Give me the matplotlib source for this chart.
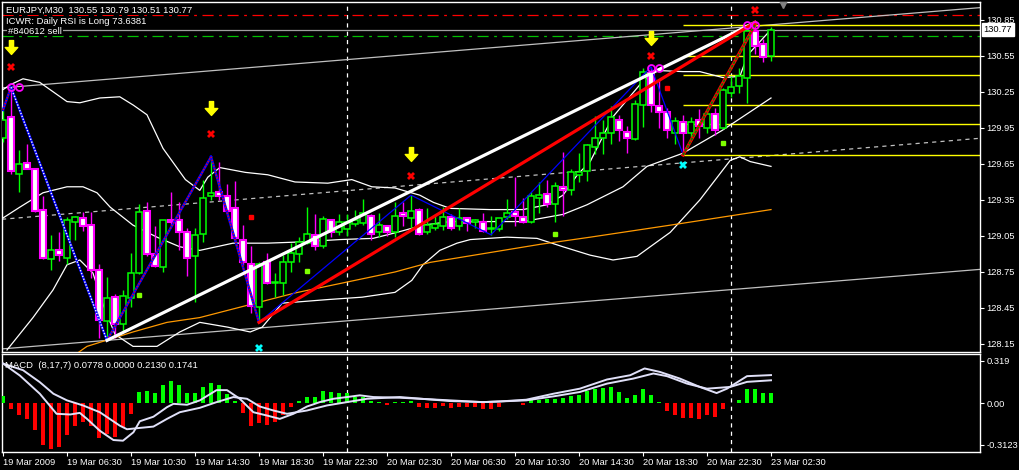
import numpy as np
import matplotlib
matplotlib.use("Agg")
import matplotlib.pyplot as plt
from matplotlib.path import Path
import matplotlib.transforms as mtransforms

plt.rcParams['font.family'] = ['Liberation Sans', 'DejaVu Sans']
plt.rcParams['lines.scale_dashes'] = False

# ===== EURJPY M30 candles, bar 0 = 19 Mar 2009 02:30 =====
opens = [129.87, 130.04, 129.57, 129.66, 129.61, 129.27, 128.86, 128.93, 128.87, 129.17,
         129.20, 129.14, 128.77, 128.34, 128.54, 128.32, 128.53, 128.74, 129.26, 128.90,
         128.79, 129.18, 129.18, 129.08, 128.88, 129.07, 129.38, 129.42, 129.38, 129.28,
         129.02, 128.82, 128.46, 128.83, 128.66, 128.66, 128.83, 128.90, 128.99, 129.06,
         128.97, 129.18, 129.08, 129.11, 129.15, 129.16, 129.22, 129.08, 129.13, 129.08,
         129.24, 129.20, 129.27, 129.08, 129.12, 129.13, 129.21, 129.13, 129.20, 129.17,
         129.17, 129.11, 129.11, 129.21, 129.25, 129.21, 129.17, 129.37, 129.40, 129.32,
         129.46, 129.43, 129.56, 129.59, 129.79, 129.87, 129.91, 130.02, 129.92, 129.86,
         130.14, 130.41, 130.13, 130.08, 129.91, 130.00, 129.91, 130.02, 129.95, 130.07,
         129.95, 130.24, 130.30, 130.37, 130.76, 130.65, 130.55]
highs = [130.10, 130.29, 129.77, 129.82, 129.62, 129.38, 129.06, 129.08, 129.21, 129.22,
         129.25, 129.25, 128.82, 128.71, 128.57, 128.60, 128.91, 129.32, 129.33, 129.13,
         129.18, 129.42, 129.33, 129.12, 129.12, 129.52, 129.71, 129.67, 129.48, 129.51,
         129.14, 128.97, 128.83, 128.91, 128.74, 128.89, 128.99, 129.04, 129.29, 129.23,
         129.22, 129.18, 129.23, 129.23, 129.27, 129.36, 129.23, 129.24, 129.14, 129.33,
         129.33, 129.39, 129.28, 129.28, 129.22, 129.29, 129.23, 129.28, 129.21, 129.19,
         129.24, 129.22, 129.20, 129.36, 129.54, 129.37, 129.42, 129.50, 129.52, 129.50,
         129.75, 129.61, 129.74, 129.82, 130.05, 130.02, 130.13, 130.06, 129.97, 130.18,
         130.45, 130.46, 130.35, 130.12, 130.04, 130.06, 130.04, 130.11, 130.10, 130.12,
         130.28, 130.38, 130.45, 130.78, 130.83, 130.69, 130.79]
lows = [129.83, 129.57, 129.42, 129.61, 129.25, 128.86, 128.77, 128.84, 128.82, 129.02,
        129.09, 128.70, 128.20, 128.18, 128.20, 128.25, 128.46, 128.73, 128.88, 128.79,
        128.75, 129.14, 128.93, 128.72, 128.50, 129.00, 129.35, 129.35, 129.24, 129.02,
        128.81, 128.41, 128.33, 128.65, 128.54, 128.56, 128.75, 128.83, 128.98, 128.93,
        128.95, 129.04, 129.06, 129.05, 129.13, 129.14, 129.02, 129.04, 129.05, 129.04,
        129.13, 129.12, 129.06, 129.07, 129.10, 129.10, 129.10, 129.10, 129.09, 129.12,
        129.08, 129.06, 129.09, 129.19, 129.13, 129.16, 129.16, 129.24, 129.29, 129.17,
        129.22, 129.39, 129.50, 129.51, 129.73, 129.73, 129.82, 129.84, 129.74, 129.85,
        129.96, 130.08, 129.95, 129.87, 129.82, 129.73, 129.87, 129.87, 129.91, 129.89,
        129.94, 130.21, 130.24, 130.16, 130.57, 130.50, 130.51]
closes = [130.02, 129.59, 129.65, 129.61, 129.26, 128.87, 128.93, 128.89, 129.18, 129.21,
          129.13, 128.77, 128.35, 128.53, 128.32, 128.55, 128.74, 129.25, 128.90, 128.80,
          129.18, 129.17, 129.08, 128.87, 129.06, 129.37, 129.41, 129.38, 129.26, 129.03,
          128.83, 128.47, 128.82, 128.66, 128.67, 128.83, 128.91, 129.00, 129.07, 128.97,
          129.19, 129.08, 129.17, 129.17, 129.18, 129.24, 129.07, 129.14, 129.08, 129.22,
          129.22, 129.26, 129.07, 129.14, 129.15, 129.21, 129.12, 129.20, 129.16, 129.18,
          129.09, 129.12, 129.20, 129.24, 129.22, 129.17, 129.38, 129.39, 129.32, 129.47,
          129.43, 129.58, 129.58, 129.81, 129.87, 129.91, 130.04, 129.93, 129.87, 130.15,
          130.42, 130.14, 130.08, 129.93, 130.01, 129.91, 130.00, 129.97, 130.07, 129.93,
          130.27, 130.29, 130.38, 130.76, 130.63, 130.54, 130.77]

# ===== bollinger bands + slow MA, read as (bar, price) points =====
bb_up_x = [0, 0.9, 2.5, 4.6, 8, 9.6, 12.1, 14.6, 16.3, 18, 20, 22.8, 24.6, 25.6, 27.1, 30.3,
           33.1, 36.5, 40.6, 43.6, 46.1, 49, 50, 52.1, 53.8, 55.9, 60.9, 65, 68, 70, 71.8,
           73.4, 76.2, 79.6, 81.5, 85, 87.1, 90, 92.1, 93.1, 96]
bb_up_y = [130.27, 130.31, 130.36, 130.33, 130.17, 130.16, 130.20, 130.21, 130.14, 130.06,
           129.78, 129.52, 129.43, 129.54, 129.62, 129.58, 129.56, 129.50, 129.49, 129.52,
           129.46, 129.45, 129.43, 129.39, 129.33, 129.28, 129.27, 129.27, 129.31, 129.39,
           129.56, 129.67, 130.04, 130.31, 130.43, 130.42, 130.42, 130.37, 130.38, 130.56, 130.77]
bb_mid_x = [0, 2.1, 5, 8, 10, 11.75, 13.4, 16.25, 19.25, 22.1, 24.6, 28.75, 33, 37.1, 42.1,
            46.25, 49.25, 52.5, 55.9, 65, 70, 73, 77.5, 80.5, 85, 89.9, 96]
bb_mid_y = [129.20, 129.29, 129.41, 129.46, 129.46, 129.41, 129.29, 129.14, 129.04, 128.96,
            128.93, 128.99, 128.99, 129.00, 129.02, 129.03, 129.08, 129.14, 129.17, 129.17,
            129.23, 129.31, 129.46, 129.63, 129.74, 129.93, 130.20]
bb_lo_x = [0.5, 3.75, 6.25, 8, 9.6, 11.25, 12.5, 14, 16.25, 19.25, 22.1, 24.6, 28.1, 30.9,
           32.4, 34.9, 40.6, 44.9, 49, 51.1, 52.5, 54.6, 56.75, 58.4, 63, 66.75, 70, 73.4,
           76.25, 79.25, 80.9, 83.4, 87.1, 90.9, 92.1, 93.4, 96]
bb_lo_y = [128.10, 128.37, 128.60, 128.81, 128.85, 128.74, 128.48, 128.23, 128.13, 128.13,
           128.25, 128.33, 128.29, 128.25, 128.29, 128.49, 128.52, 128.54, 128.58, 128.68,
           128.81, 128.93, 128.99, 129.02, 129.04, 129.03, 128.96, 128.89, 128.85, 128.88,
           128.96, 129.08, 129.35, 129.68, 129.71, 129.67, 129.63]
ma_x = [9, 10.5, 16.25, 20.5, 24.6, 36.5, 49, 53.4, 67.1, 73.4, 83.4, 96]
ma_y = [128.06, 128.13, 128.25, 128.33, 128.37, 128.575, 128.75, 128.83, 128.98, 129.04,
        129.14, 129.27]

# ===== zigzag / trendlines / fibo =====
zz_x = [0, 1, 13, 26, 32]
zz_y = [130.10, 130.29, 128.18, 129.71, 128.33]
zz2_x = [32, 51, 61, 81, 85]
zz2_y = [128.33, 129.39, 129.06, 130.46, 129.73]
white_tl = [(13, 128.18), (94, 130.83)]
red_tl = [(32, 128.33), (94, 130.83)]
chan_top = [(1, 130.29), (96, 130.81)]
chan_bot = [(13, 128.18), (96, 128.63)]
chan_mid = [(0, 129.19), (96, 129.72)]
fib_start, fib_low, fib_high = 85, 129.725, 130.81
fib_levels = [0.0, 0.236, 0.382, 0.618, 0.764, 1.0]
sl_price, tp_price, bid_price = 130.89, 130.72, 130.77

# ===== signal markers =====
arrow_x = [1, 26, 51, 81]
arrow_y = [130.625, 130.117, 129.733, 130.70]
redx_x = [1, 26, 51, 81, 94]
redx_y = [130.458, 129.90, 129.55, 130.55, 130.933]
cyan_x = [32, 85]
cyan_y = [128.117, 129.642]
ring_x = [1, 2, 81, 82, 93, 94]
ring_y = [130.29, 130.29, 130.45, 130.45, 130.81, 130.81]
gsq_x = [17, 38, 69, 90]
gsq_y = [128.56, 128.76, 129.07, 129.825]
rsq_x = [31, 83]
rsq_y = [129.21, 130.28]

# ===== MACD (8,17,7) =====
macd_hist = [0.053, -0.045, -0.09, -0.12, -0.20, -0.31, -0.34, -0.33, -0.24, -0.17,
             -0.14, -0.17, -0.26, -0.23, -0.25, -0.18, -0.08, 0.085, 0.09, 0.08,
             0.14, 0.165, 0.14, 0.08, 0.08, 0.12, 0.15, 0.135, 0.07, 0.015,
             -0.07, -0.17, -0.15, -0.16, -0.14, -0.085, -0.03, 0.015, 0.05, 0.05,
             0.09, 0.085, 0.08, 0.08, 0.05, 0.045, 0.02, 0.01, -0.008, 0.01,
             0.012, 0.018, -0.03, -0.033, -0.033, -0.018, -0.033, -0.03, -0.03, -0.03,
             -0.045, -0.045, -0.03, 0.005, 0.005, -0.01, 0.023, 0.028, 0.035, 0.035,
             0.043, 0.053, 0.065, 0.09, 0.106, 0.116, 0.124, 0.086, 0.04, 0.065,
             0.106, 0.065, 0.01, -0.058, -0.09, -0.11, -0.11, -0.12, -0.09, -0.10,
             -0.045, 0.005, 0.023, 0.106, 0.106, 0.078, 0.0778]
macd_a_x = [0, 2.1, 4.6, 6.7, 8.4, 9.6, 10.5, 12.1, 13.8, 15, 16.3, 17.1, 18.8, 20.5, 21.3,
            23, 24.6, 26.7, 28, 29.6, 31.3, 33, 34.6, 36.3, 38, 39.6, 41.3, 43, 44.6, 46.3,
            49.6, 55.9, 60, 62.1, 65.4, 68.8, 72.1, 75.5, 78.4, 80.2, 82.1, 84.6, 87.1,
            89.2, 90.5, 93, 96]
macd_a_y = [0.30, 0.21, 0.073, -0.078, -0.083, -0.071, -0.116, -0.205, -0.275, -0.28,
            -0.217, -0.134, -0.10, -0.028, -0.003, -0.01, 0.023, 0.10, 0.10, 0.035,
            -0.066, -0.091, -0.116, -0.078, -0.023, 0.01, 0.035, 0.048, 0.061, 0.048,
            0.043, 0.023, 0.01, 0.015, 0.028, 0.073, 0.111, 0.18, 0.212, 0.263, 0.237,
            0.187, 0.124, 0.078, 0.111, 0.205, 0.213]
macd_b_x = [0, 2.5, 4.6, 6.3, 8, 10, 12.1, 14.6, 15.5, 17.1, 18.8, 20.5, 22.1, 24.6, 26.7,
            28.8, 30.5, 32.1, 33.8, 35.5, 38, 40.5, 43, 45.5, 49.6, 55.9, 60, 62.1, 65.4,
            68.8, 72.1, 75.5, 78.8, 81.3, 83, 85.5, 88, 90.9, 93, 96]
macd_b_y = [0.30, 0.25, 0.16, 0.073, 0.023, -0.015, -0.066, -0.167, -0.194, -0.184, -0.174,
            -0.116, -0.066, -0.033, 0.01, 0.048, 0.035, -0.023, -0.053, -0.078, -0.053,
            -0.015, 0.01, 0.035, 0.048, 0.018, 0.01, 0.015, 0.023, 0.053, 0.086, 0.149,
            0.187, 0.225, 0.205, 0.149, 0.111, 0.124, 0.162, 0.174]

price_ticks = [128.15, 128.45, 128.75, 129.05, 129.35, 129.65, 129.95, 130.25, 130.55, 130.85]
macd_ticks = [0.319, 0.0, -0.3123]
macd_tick_labels = ['0.319', '0.00', '-0.3123']
time_ticks = [0, 8, 16, 24, 32, 40, 48, 56, 64, 72, 80, 88, 96]
time_labels = ['19 Mar 2009', '19 Mar 06:30', '19 Mar 10:30', '19 Mar 14:30', '19 Mar 18:30',
               '19 Mar 22:30', '20 Mar 02:30', '20 Mar 06:30', '20 Mar 10:30', '20 Mar 14:30',
               '20 Mar 18:30', '20 Mar 22:30', '23 Mar 02:30']
day_breaks = [43, 91]

# ==== figure ====
W, H = 1020, 470
fig = plt.figure(figsize=(W / 100, H / 100), dpi=100, facecolor='black')
ax = fig.add_axes([2 / W, 1 - 352 / H, 978 / W, 350 / H])
axm = fig.add_axes([2 / W, 1 - 452 / H, 978 / W, 98 / H])
for a in (ax, axm):
    a.set_facecolor('black')
    for s in a.spines.values():
        s.set_color('white')
        s.set_linewidth(1)
    a.set_xlim(-0.125, 122.125)
    a.yaxis.tick_right()
    a.tick_params(axis='y', colors='white', labelsize=6.7, length=3, width=0.8, pad=1.5)
    for d in day_breaks:
        a.axvline(d, color='white', lw=0.9, ls=(0, (3, 3)), zorder=2)
ax.set_ylim(128.083, 131.0)
axm.set_ylim(-0.365, 0.3716)

# ---- horizontal order lines ----
ax.axhline(sl_price, color='#ff0000', lw=0.9, ls=(0, (8, 4, 2, 4)), zorder=2)
ax.axhline(tp_price, color='#00c000', lw=0.9, ls=(0, (8, 4, 2, 4)), zorder=2)
ax.axhline(bid_price - 0.005, color='#a0a0a0', lw=0.9, zorder=2)

# ---- channel lines ----
ax.axline(*chan_top, color='#c0c0c0', lw=0.9, zorder=2)
ax.axline(*chan_bot, color='#c0c0c0', lw=0.9, zorder=2)
ax.axline(*chan_mid, color='#c0c0c0', lw=0.9, ls=(0, (3, 3)), zorder=2)

# ---- fibo ----
for lv in fib_levels:
    ax.hlines(fib_low + lv * (fib_high - fib_low), fib_start, 122.125, color='#ffff00', lw=1, zorder=2)

# ---- bands and MA ----
ax.plot(bb_up_x, bb_up_y, color='white', lw=0.9, zorder=3)
ax.plot(bb_mid_x, bb_mid_y, color='white', lw=0.9, zorder=3)
ax.plot(bb_lo_x, bb_lo_y, color='white', lw=0.9, zorder=3)
ax.plot(ma_x, ma_y, color='#ff9900', lw=0.9, zorder=3)

# ---- candles ----
o, h, l, c = map(np.array, (opens, highs, lows, closes))
idx = np.arange(len(o))
up = c >= o
ax.vlines(idx[up], l[up], h[up], color='#00ff00', lw=1.0, zorder=4)
ax.vlines(idx[~up], l[~up], h[~up], color='#ff00ff', lw=1.0, zorder=4)
lo = np.minimum(o, c)
ht = np.maximum(np.abs(c - o), 0.004)
ax.bar(idx[up], ht[up], bottom=lo[up], width=0.66, color='black', edgecolor='#00ff00', lw=1.1, zorder=5)
ax.bar(idx[~up], ht[~up], bottom=lo[~up], width=0.66, color='white', edgecolor='#ff00ff', lw=1.5, zorder=5)

# ---- zigzag + trendlines ----
for k in range(len(zz_x) - 1):
    seg_x, seg_y = zz_x[k:k + 2], zz_y[k:k + 2]
    dash_col = 'white' if k == 1 else '#ff0000'
    ax.plot(seg_x, seg_y, color='#0000ff', lw=1.8, zorder=6)
    ax.plot(seg_x, seg_y, color=dash_col, lw=1.0, ls=(0, (1, 1.2)), zorder=6)
ax.plot(zz2_x, zz2_y, color='#0000ff', lw=0.9, zorder=6)
ax.plot(*zip(*white_tl), color='white', lw=2.3, zorder=6)
ax.plot(*zip(*red_tl), color='#ff0000', lw=2.3, zorder=6)
fib_diag = [(fib_start, fib_low), (94, fib_high)]
ax.plot(*zip(*fib_diag), color='#ff0000', lw=2.3, zorder=6)
ax.plot(*zip(*fib_diag), color='#008000', lw=1.2, ls=(0, (2, 1)), zorder=6)

# ---- markers ----
arrow = Path([(-0.3, 1), (0.3, 1), (0.3, 0), (0.9, 0), (0, -1), (-0.9, 0), (-0.3, 0), (-0.3, 1)], closed=True)
ax.plot(arrow_x, arrow_y, ls='none', marker=arrow, ms=10, color='#ffff00', zorder=7)
ax.plot(redx_x, redx_y, ls='none', marker='X', ms=5.5, color='#ff0000', mew=0, zorder=7)
ax.plot(cyan_x, cyan_y, ls='none', marker='X', ms=5.5, color='#00ffff', mew=0, zorder=7)
ax.plot(ring_x, ring_y, ls='none', marker='o', ms=5, mfc='none', mec='#ff00ff', mew=1.3, zorder=7)
ax.plot(gsq_x, gsq_y, ls='none', marker='s', ms=2.3, color='#7fff00', zorder=7)
ax.plot(rsq_x, rsq_y, ls='none', marker='s', ms=2.3, color='#ff0000', zorder=7)
ax.plot([97.5], [130.98], ls='none', marker='v', ms=6, color='#808080', zorder=7)

ax.set_xticks([])
ax.set_yticks(price_ticks)
ax.set_yticklabels([f'{p:.2f}' for p in price_ticks])
trans = mtransforms.blended_transform_factory(ax.transAxes, ax.transData)
ax.text(1.0035, bid_price, f'{bid_price:.2f}', transform=trans, color='black', fontsize=6.7,
        va='center', ha='left', bbox=dict(facecolor='white', edgecolor='white', pad=1.2), zorder=10,
        clip_on=False)

# ---- header texts ----
box = dict(facecolor='black', edgecolor='none', pad=0.6)
fig.text(6 / W, 1 - 10 / H, 'EURJPY,M30  130.55 130.79 130.51 130.77', color='white', fontsize=6.8,
         va='center', bbox=box)
fig.text(6 / W, 1 - 21 / H, 'ICWR: Daily RSI is Long 73.6381', color='white', fontsize=6.8,
         va='center', bbox=box)
fig.text(8 / W, 1 - 31 / H, '#840612 sell', color='white', fontsize=6.8, va='center', bbox=box)

# ---- MACD panel ----
hist = np.array(macd_hist)
hidx = np.arange(len(hist))
axm.bar(hidx[hist >= 0], hist[hist >= 0], width=0.62, color='#00ff00', zorder=3)
axm.bar(hidx[hist < 0], hist[hist < 0], width=0.62, color='#ff0000', zorder=3)
axm.plot(macd_a_x, macd_a_y, color='#e0e0f8', lw=1.4, zorder=4)
axm.plot(macd_b_x, macd_b_y, color='#e0e0f8', lw=1.4, zorder=4)
axm.set_yticks(macd_ticks)
axm.set_yticklabels(macd_tick_labels)
axm.set_xticks(time_ticks)
axm.set_xticklabels(time_labels, ha='left')
axm.tick_params(axis='x', colors='white', labelsize=6.7, length=3, width=0.8, pad=1.5)
fig.text(5 / W, 1 - 365 / H, 'MACD  (8,17,7) 0.0778 0.0000 0.2130 0.1741', color='white',
         fontsize=6.8, va='center', zorder=10)

fig.savefig('out.png', dpi=100, facecolor='black')
